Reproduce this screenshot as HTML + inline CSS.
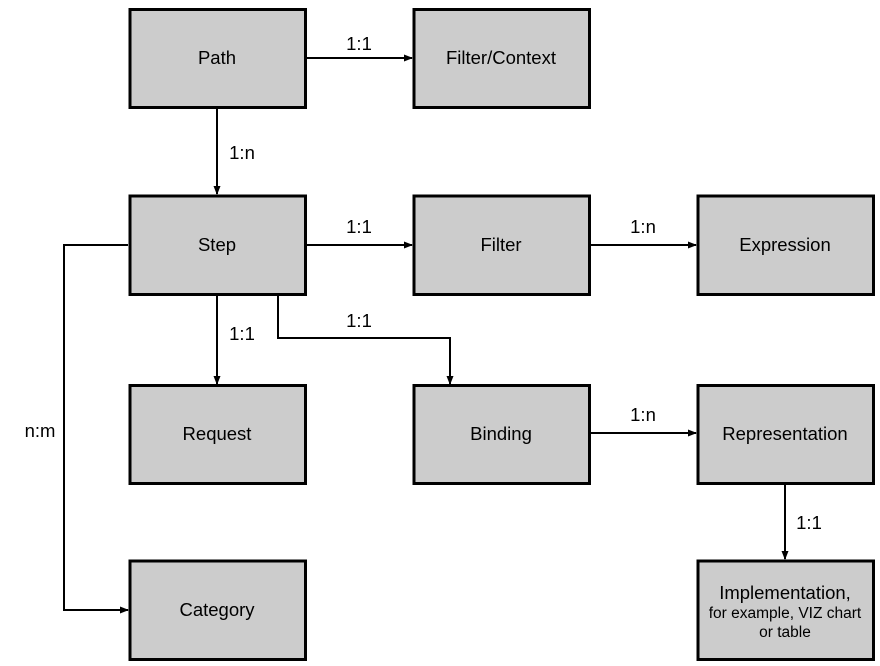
<!DOCTYPE html>
<html><head><style>body{margin:0;background:#fff}svg{display:block}text{font-family:"Liberation Sans",Arial,sans-serif;font-size:18.5px;fill:#000}</style></head>
<body>
<svg width="880" height="666" viewBox="0 0 880 666" xmlns="http://www.w3.org/2000/svg">
<defs><marker id="a" markerWidth="9" markerHeight="7" refX="8" refY="3.5" orient="auto" markerUnits="userSpaceOnUse"><path d="M0,0 L9,3.5 L0,7 z" fill="#000"/></marker></defs>
<g fill="#cccccc" stroke="#000" stroke-width="3">
<rect x="130" y="9.5" width="175.5" height="98"/>
<rect x="414" y="9.5" width="175.5" height="98"/>
<rect x="130" y="196" width="175.5" height="98.5"/>
<rect x="414" y="196" width="175.5" height="98.5"/>
<rect x="698" y="196" width="175.5" height="98.5"/>
<rect x="130" y="385.5" width="175.5" height="98"/>
<rect x="414" y="385.5" width="175.5" height="98"/>
<rect x="698" y="385.5" width="175.5" height="98"/>
<rect x="130" y="561" width="175.5" height="98.5"/>
<rect x="698" y="561" width="175.5" height="98.5"/>
</g>
<g stroke="#000" stroke-width="2" fill="none" marker-end="url(#a)">
<path d="M307 58 H412"/>
<path d="M217 109 V194"/>
<path d="M307 245 H412"/>
<path d="M591 245 H696"/>
<path d="M217 296 V384"/>
<path d="M278 296 V338 H450 V384"/>
<path d="M591 433 H696"/>
<path d="M785 485 V559"/>
<path d="M128 245 H64 V610 H128"/>
</g>
<g text-anchor="middle">
<text x="217" y="64">Path</text>
<text x="501" y="64">Filter/Context</text>
<text x="217" y="251">Step</text>
<text x="501" y="251">Filter</text>
<text x="785" y="251">Expression</text>
<text x="217" y="440">Request</text>
<text x="501" y="440">Binding</text>
<text x="785" y="440">Representation</text>
<text x="217" y="616">Category</text>
<text x="785" y="599">Implementation,</text>
<text x="785" y="618" style="font-size:15.5px">for example, VIZ  chart</text>
<text x="785" y="637" style="font-size:15.5px">or table</text>
<text x="359" y="50">1:1</text>
<text x="359" y="233">1:1</text>
<text x="643" y="233">1:n</text>
<text x="359" y="327">1:1</text>
<text x="643" y="421">1:n</text>
<text x="242" y="159">1:n</text>
<text x="242" y="340">1:1</text>
<text x="809" y="529">1:1</text>
<text x="40" y="437">n:m</text>
</g>
</svg>
</body></html>
